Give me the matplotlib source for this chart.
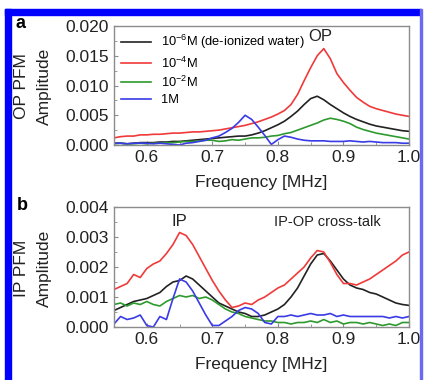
import numpy as np
import matplotlib
matplotlib.use("Agg")
import matplotlib.pyplot as plt
from matplotlib.patches import Rectangle
from matplotlib.ticker import MultipleLocator, AutoMinorLocator

plt.rcParams['font.family'] = ['Liberation Sans', 'DejaVu Sans']
plt.rcParams['mathtext.default'] = 'regular'

# frequency grid [MHz], 0.55 ... 1.00
freq = np.round(np.arange(0.55, 1.0001, 0.01), 2)

labels = ["10$^{-6}$M (de-ionized water)", "10$^{-4}$M", "10$^{-2}$M", "1M"]
colors = ["#222222", "#f03a3a", "#2e9a2e", "#3a3ae6"]

# OP PFM amplitude (x1e-3)
op_dw = [0.3, 0.3, 0.2, 0.3, 0.4, 0.4, 0.4, 0.5, 0.5, 0.6, 0.6, 0.7, 0.8, 0.9, 1.0, 1.1,
         1.2, 1.3, 1.4, 1.5, 1.5, 1.7, 2.0, 2.4, 2.9, 3.4, 4.0, 4.8, 5.7, 6.8, 7.8, 8.2,
         7.6, 6.8, 6.1, 5.4, 4.8, 4.3, 3.9, 3.5, 3.2, 3.0, 2.8, 2.6, 2.4, 2.3]
op_e4 = [1.2, 1.4, 1.5, 1.5, 1.7, 1.7, 1.8, 1.8, 1.9, 2.0, 2.0, 2.1, 2.2, 2.2, 2.3, 2.4,
         2.5, 2.7, 2.9, 3.1, 3.3, 3.6, 3.9, 4.3, 4.7, 5.2, 5.8, 6.8, 8.5, 10.8, 13.0, 15.0,
         16.2, 14.5, 12.0, 10.5, 9.2, 8.0, 7.2, 6.5, 6.1, 5.8, 5.5, 5.2, 5.0, 4.8]
op_e2 = [0.2, 0.3, 0.2, 0.2, 0.3, 0.2, 0.3, 0.3, 0.4, 0.4, 0.5, 0.6, 0.6, 0.7, 0.8, 0.8,
         0.6, 0.7, 0.9, 0.8, 1.0, 1.2, 1.2, 1.3, 1.5, 1.6, 1.9, 2.1, 2.5, 2.9, 3.3, 3.7,
         4.2, 4.5, 4.3, 4.0, 3.6, 3.0, 2.6, 2.3, 2.0, 1.8, 1.6, 1.4, 1.2, 1.0]
op_1m = [0.3, 0.3, 0.2, 0.3, 0.3, 0.3, 0.2, 0.3, 0.2, 0.1, 0.0, 0.3, 0.4, 0.6, 0.8, 1.2,
         1.5, 2.1, 2.8, 3.8, 5.0, 4.3, 3.0, 1.6, 0.1, 0.9, 1.5, 1.3, 1.0, 0.8, 0.7, 0.7,
         0.7, 0.6, 0.6, 0.6, 0.7, 0.6, 0.5, 0.6, 0.5, 0.4, 0.4, 0.4, 0.3, 0.3]

# IP PFM amplitude (x1e-3)
ip_dw = [0.55, 0.65, 0.75, 0.85, 0.9, 0.95, 1.05, 1.15, 1.35, 1.5, 1.55, 1.7, 1.6, 1.4, 1.2, 1.0,
         0.8, 0.7, 0.6, 0.5, 0.45, 0.35, 0.35, 0.4, 0.5, 0.6, 0.75, 1.0, 1.3, 1.7, 2.1, 2.4,
         2.45, 2.2, 1.9, 1.6, 1.4, 1.3, 1.25, 1.15, 1.1, 1.0, 0.9, 0.8, 0.75, 0.72]
ip_e4 = [1.25, 1.35, 1.45, 1.75, 1.65, 1.95, 2.1, 2.2, 2.45, 2.75, 3.15, 3.05, 2.75, 2.35, 1.95, 1.55,
         1.2, 0.9, 0.65, 0.7, 0.8, 0.75, 0.9, 1.0, 1.15, 1.3, 1.4, 1.6, 1.8, 2.0, 2.3, 2.55,
         2.5, 2.15, 1.75, 1.45, 1.45, 1.4, 1.5, 1.6, 1.75, 1.9, 2.05, 2.2, 2.4, 2.5]
ip_e2 = [0.75, 0.8, 0.7, 0.8, 0.75, 0.85, 0.75, 0.7, 0.85, 0.95, 1.05, 1.0, 1.05, 0.95, 1.0, 0.9,
         0.75, 0.6, 0.5, 0.45, 0.35, 0.3, 0.25, 0.2, 0.2, 0.15, 0.15, 0.1, 0.15, 0.15, 0.2, 0.15,
         0.25, 0.15, 0.2, 0.1, 0.15, 0.15, 0.1, 0.15, 0.1, 0.05, 0.1, 0.05, 0.15, 0.15]
ip_1m = [0.1, 0.35, 0.25, 0.3, 0.4, 0.05, 0.0, 0.35, 0.25, 0.95, 1.6, 1.5, 1.2, 0.8, 0.4, 0.05,
         0.05, 0.2, 0.35, 0.55, 0.65, 0.6, 0.45, 0.15, 0.1, 0.35, 0.35, 0.4, 0.35, 0.4, 0.45, 0.4,
         0.4, 0.45, 0.35, 0.4, 0.35, 0.35, 0.35, 0.35, 0.35, 0.35, 0.3, 0.35, 0.3, 0.35]

op_series = [op_dw, op_e4, op_e2, op_1m]
ip_series = [ip_dw, ip_e4, ip_e2, ip_1m]

fig = plt.figure(figsize=(4.25, 3.8), dpi=100)
W, H = 425, 380

def px_axes(l, t, r, b):
    return fig.add_axes([l / W, 1 - b / H, (r - l) / W, (b - t) / H])

ax1 = px_axes(114, 26, 409, 145)
ax2 = px_axes(114, 207, 409, 327)

for ax in (ax1, ax2):
    for sp in ax.spines.values():
        sp.set_color("#8c8c8c")
        sp.set_linewidth(1.0)
    ax.set_xlim(0.55, 1.0)
    ax.xaxis.set_major_locator(MultipleLocator(0.1))
    ax.xaxis.set_minor_locator(AutoMinorLocator(2))
    ax.yaxis.set_minor_locator(AutoMinorLocator(2))
    ax.tick_params(which="both", direction="in", colors="#8c8c8c", labelcolor="#222222",
                   labelsize=12.5, top=False, right=False)
    ax.tick_params(which="major", length=3)
    ax.tick_params(which="minor", length=2)
    ax.set_xlabel("Frequency [MHz]", fontsize=12.5, color="#222222", labelpad=7)

for vals, lab, c in zip(op_series, labels, colors):
    ax1.plot(freq, np.array(vals) * 1e-3, color=c, lw=1.2, label=lab)
ax1.set_ylim(0, 0.020)
ax1.yaxis.set_major_locator(MultipleLocator(0.005))
ax1.yaxis.set_major_formatter(matplotlib.ticker.FormatStrFormatter("%.3f"))
ax1.legend(loc="upper left", frameon=False, fontsize=9.3, handlelength=2.3,
           handletextpad=0.8, labelspacing=0.32, borderaxespad=0.25, borderpad=0.3)
ax1.text(0.865, 0.0182, "OP", fontsize=12, ha="center", va="center", color="#222222")

for vals, c in zip(ip_series, colors):
    ax2.plot(freq, np.array(vals) * 1e-3, color=c, lw=1.2)
ax2.set_ylim(0, 0.004)
ax2.yaxis.set_major_locator(MultipleLocator(0.001))
ax2.yaxis.set_major_formatter(matplotlib.ticker.FormatStrFormatter("%.3f"))
ax2.text(0.65, 0.0035, "IP", fontsize=12, ha="center", va="center", color="#222222")
ax2.text(0.875, 0.0035, "IP-OP cross-talk", fontsize=10.5, ha="center", va="center",
         color="#222222")

# y labels (two lines, rotated)
fig.text(22 / W, 1 - 86 / H, "OP PFM", rotation=90, fontsize=12.5, ha="center", va="center",
         color="#222222")
fig.text(44 / W, 1 - 86 / H, "Amplitude", rotation=90, fontsize=12.5, ha="center", va="center",
         color="#222222")
fig.text(22 / W, 1 - 268 / H, "IP PFM", rotation=90, fontsize=12.5, ha="center", va="center",
         color="#222222")
fig.text(44 / W, 1 - 268 / H, "Amplitude", rotation=90, fontsize=12.5, ha="center", va="center",
         color="#222222")

# panel letters
fig.text(21 / W, 1 - 24 / H, "a", fontsize=13, fontweight="bold", ha="center", va="center")
fig.text(22 / W, 1 - 206 / H, "b", fontsize=13, fontweight="bold", ha="center", va="center")

# blue frame
tr = fig.transFigure
fig.patches.append(Rectangle((5 / W, 0), 6 / W, 1 - 9 / H, color="#0000ff", transform=tr))
fig.patches.append(Rectangle((5 / W, 1 - 15 / H), 416 / W, 6 / H, color="#0000ff", transform=tr))
fig.patches.append(Rectangle((420 / W, 0), 1.5 / W, 1 - 9 / H, color="#6a6af0", transform=tr))

fig.savefig("out.png", dpi=100)
